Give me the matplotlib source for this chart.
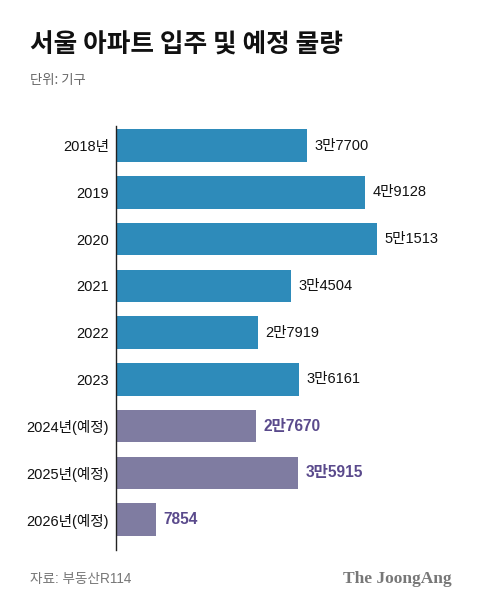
import matplotlib.pyplot as plt

plt.rcParams['font.family'] = ['Noto Sans CJK KR', 'DejaVu Sans']
MIXED = ['Liberation Sans', 'Noto Sans CJK KR']

years = ["2018년", "2019", "2020", "2021", "2022", "2023",
         "2024년(예정)", "2025년(예정)", "2026년(예정)"]
values = [37700, 49128, 51513, 34504, 27919, 36161, 27670, 35915, 7854]
labels = ["3만7700", "4만9128", "5만1513", "3만4504", "2만7919", "3만6161",
          "2만7670", "3만5915", "7854"]
planned = [False] * 6 + [True] * 3

BLUE = "#2e8bba"
PURPLE = "#7f7ca1"
PURPLE_TXT = "#5a4a8c"

W, H = 480, 608
fig = plt.figure(figsize=(W / 100, H / 100), dpi=100)

# axes box in pixel coords: x 116..480, y 126..550
ax = fig.add_axes([116 / W, 1 - 550 / H, (480 - 116) / W, (550 - 126) / H])
ypos = list(range(len(years)))
colors = [PURPLE if p else BLUE for p in planned]
ax.barh(ypos, values, height=0.70, color=colors)
ax.set_ylim(len(years) - 0.35, -0.42)
ax.set_xlim(0, 364 / 0.00507)

for y, v, lab, p in zip(ypos, values, labels, planned):
    ax.text(v + 1500, y, lab, va="center", ha="left",
            fontsize=11.2 if p else 10.5, family=MIXED,
            color=PURPLE_TXT if p else "#111111",
            fontweight="bold" if p else "normal")

ax.set_yticks(ypos)
ax.set_yticklabels(years, fontsize=10.5, color="#111111", family=MIXED)
ax.tick_params(axis="y", length=0, pad=5)
ax.set_xticks([])
for s in ["top", "right", "bottom"]:
    ax.spines[s].set_visible(False)
ax.spines["left"].set_linewidth(1.0)
ax.spines["left"].set_color("#222222")

fig.text(30 / W, 1 - 45 / H, "서울 아파트 입주 및 예정 물량", fontsize=18.5,
         fontweight="heavy", va="center", ha="left", color="#111111")
fig.text(30 / W, 1 - 80 / H, "단위: 기구", fontsize=9.6, va="center", ha="left",
         color="#666666")
fig.text(30 / W, 1 - 579 / H, "자료: 부동산R114", fontsize=9.8, va="center",
         ha="left", color="#777777", family=MIXED)
fig.text(452 / W, 1 - 579 / H, "The JoongAng", fontsize=12.5, va="center",
         ha="right", color="#777777", fontweight="bold",
         family=["Liberation Serif", "DejaVu Serif"])

fig.savefig("out.png", dpi=100)
